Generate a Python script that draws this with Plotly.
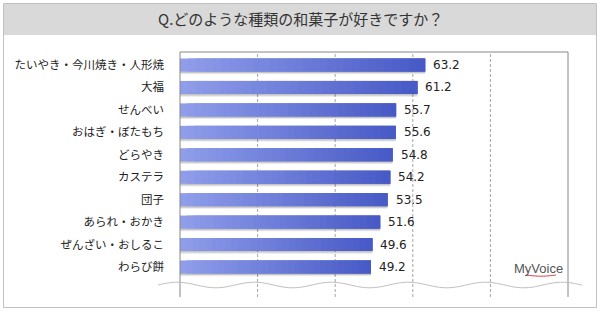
import plotly.graph_objects as go
import numpy as np

# ---- data ----
categories = ["たいやき・今川焼き・人形焼", "大福", "せんべい", "おはぎ・ぼたもち", "どらやき",
              "カステラ", "団子", "あられ・おかき", "ぜんざい・おしるこ", "わらび餅"]
values = [63.2, 61.2, 55.7, 55.6, 54.8, 54.2, 53.5, 51.6, 49.6, 49.2]
value_labels = ["63.2", "61.2", "55.7", "55.6", "54.8", "54.2", "53.5", "51.6", "49.6", "49.2"]
title_text = "Q.どのような種類の和菓子が好きですか？"

# ---- geometry (pixels) ----
W, H = 600, 312
L, R, T, B = 180, 568, 52, 297

def px(x):
    return (x - L) / (R - L)

def py(y):
    return (B - y) / (B - T)

fig = go.Figure()

bw = 0.58
pos = list(range(len(categories)))

# shadow
fig.add_trace(go.Bar(y=pos, x=values, orientation="h", width=bw, offset=-bw / 2 + 0.12,
                     marker=dict(color="rgba(0,0,0,0.09)", line=dict(width=0)), hoverinfo="skip"))
fig.add_trace(go.Bar(y=pos, x=values, orientation="h", width=bw, offset=-bw / 2 + 0.07,
                     marker=dict(color="rgba(0,0,0,0.15)", line=dict(width=0)), hoverinfo="skip"))

# gradient bars as overlapping segments
N = 30
c0 = np.array([143, 157, 234])
c1 = np.array([72, 90, 198])
vals = np.array(values)
for i in range(N):
    t = i / (N - 1)
    c = (c0 * (1 - t) + c1 * t).round().astype(int)
    base = vals * i / N
    seg = np.minimum(vals * 3 / N, vals - base)
    fig.add_trace(go.Bar(y=pos, x=seg, base=base, orientation="h",
                         width=bw, offset=-bw / 2,
                         marker=dict(color=f"rgb({c[0]},{c[1]},{c[2]})", line=dict(width=0)),
                         hoverinfo="skip"))

annotations = []
for p, v, lab in zip(pos, values, value_labels):
    annotations.append(dict(x=v, y=p, xref="x", yref="y", text=lab, showarrow=False,
                            xanchor="left", xshift=6, yshift=0,
                            font=dict(family="DejaVu Sans", size=12, color="#222")))

# title
annotations.append(dict(x=px(300), y=py(19), xref="paper", yref="paper", text=title_text,
                        showarrow=False, xanchor="center", yanchor="middle",
                        font=dict(family="Noto Sans CJK JP", size=15, color="#333")))
# logo
annotations.append(dict(x=px(538), y=py(268), xref="paper", yref="paper", text="MyVoice",
                        showarrow=False, xanchor="center", yanchor="middle",
                        font=dict(family="Liberation Sans", size=13, color="#555")))

shapes = []
# outer border
shapes.append(dict(type="rect", xref="paper", yref="paper", x0=px(3.5), x1=px(596.5), y0=py(3.5), y1=py(307.5),
                   line=dict(color="#c0c0c0", width=1), fillcolor="rgba(0,0,0,0)", layer="below"))
# title band
shapes.append(dict(type="rect", xref="paper", yref="paper", x0=px(4), x1=px(596), y0=py(4), y1=py(35),
                   line=dict(width=0), fillcolor="#d9d9d9", layer="below"))
# gridlines
for g in [20, 40, 60, 80]:
    shapes.append(dict(type="line", xref="x", yref="paper", x0=g, x1=g, y0=0, y1=1,
                       line=dict(color="#a6a6a6", width=1, dash="3px,2px"), layer="below"))
# frame
shapes.append(dict(type="line", xref="paper", yref="paper", x0=0, x1=1, y0=1, y1=1,
                   line=dict(color="#868686", width=1)))
shapes.append(dict(type="line", xref="paper", yref="paper", x0=0, x1=0, y0=0, y1=1,
                   line=dict(color="#868686", width=1)))
shapes.append(dict(type="line", xref="paper", yref="paper", x0=1, x1=1, y0=0, y1=1,
                   line=dict(color="#868686", width=1)))
# wave decoration
xs = np.linspace(158, 582, 120)
ys = 285 + 2.8 * np.sin((xs - 158) / 77 * 2 * np.pi + np.pi)
path = "M " + " L ".join(f"{px(a):.5f},{py(b):.5f}" for a, b in zip(xs, ys))
shapes.append(dict(type="path", xref="paper", yref="paper", path=path,
                   line=dict(color="#c0c0c0", width=1)))
# logo swoosh
sx = np.linspace(526, 556, 20)
sy = 275 + 1.2 * np.sin((sx - 526) / 30 * np.pi)
spath = "M " + " L ".join(f"{px(a):.5f},{py(b):.5f}" for a, b in zip(sx, sy))
shapes.append(dict(type="path", xref="paper", yref="paper", path=spath,
                   line=dict(color="#d04040", width=1)))

fig.update_layout(
    width=W, height=H,
    margin=dict(l=L, r=W - R, t=T, b=H - B, pad=0),
    paper_bgcolor="white", plot_bgcolor="white",
    barmode="overlay", showlegend=False,
    xaxis=dict(range=[0, 100], showgrid=False, zeroline=False, showticklabels=False,
               showline=False, ticks="", fixedrange=True),
    yaxis=dict(range=[9 + 30 / 22.4, -13 / 22.4], tickmode="array", tickvals=pos, ticktext=categories,
               showgrid=False, zeroline=False, showline=False, ticks="", ticklabelstandoff=15,
               tickfont=dict(family="Noto Sans CJK JP", size=11.5, color="#222"), fixedrange=True),
    shapes=shapes, annotations=annotations,
)

fig.write_html("out.html")
